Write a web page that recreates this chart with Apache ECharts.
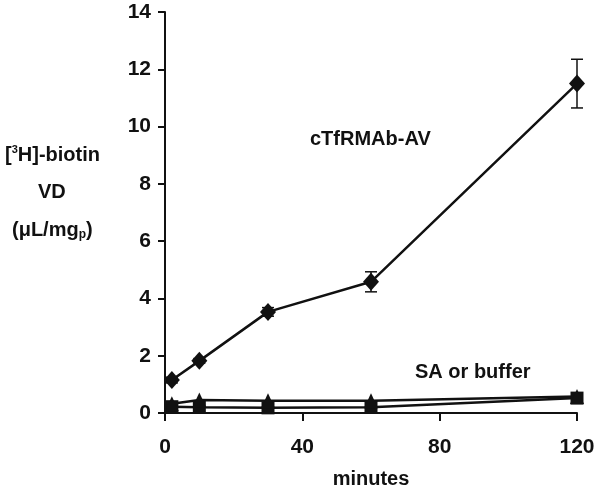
<!DOCTYPE html>
<html>
<head>
<meta charset="utf-8">
<script src="https://cdn.jsdelivr.net/npm/echarts@6/dist/echarts.min.js"></script>
<style>
  html, body { margin: 0; padding: 0; background: #fff; }
  #chart { width: 600px; height: 488px; }
</style>
</head>
<body>
<div id="chart"></div>
<script>
// sampling times (minutes)
var minutes = [2, 10, 30, 60, 120];
// cTfRMAb-AV mean and SE
var avMean = [1.15, 1.82, 3.53, 4.58, 11.5];
var avErr = [0.1, 0.08, 0.15, 0.35, 0.85];
// SA (triangles) and buffer (squares)
var saMean = [0.32, 0.45, 0.43, 0.43, 0.58];
var bufferMean = [0.22, 0.2, 0.18, 0.2, 0.52];

var FONT = 'Liberation Sans, Arial, sans-serif';
var INK = '#111';

function pairs(ys) {
	return minutes.map(function (m, i) {
		return [m, ys[i]];
	});
}

var errData = minutes.map(function (m, i) {
	return [m, avMean[i] - avErr[i], avMean[i] + avErr[i]];
});

var chart = echarts.init(document.getElementById('chart'));
chart.setOption({
	backgroundColor: '#fff',
	animation: false,
	grid: { left: 165, right: 23, top: 12, bottom: 75, containLabel: false, outerBoundsMode: 'none' },
	xAxis: {
		type: 'value',
		min: 0,
		max: 120,
		interval: 40,
		name: 'minutes',
		nameLocation: 'middle',
		nameGap: 56,
		nameTextStyle: { color: INK, fontFamily: FONT, fontWeight: 'bold', fontSize: 20 },
		splitLine: { show: false },
		axisLine: { lineStyle: { color: INK, width: 2 } },
		axisTick: { length: 8, lineStyle: { color: INK, width: 2 } },
		axisLabel: { color: INK, fontFamily: FONT, fontWeight: 'bold', fontSize: 21, margin: 24 }
	},
	yAxis: {
		type: 'value',
		min: 0,
		max: 14,
		interval: 2,
		splitLine: { show: false },
		axisLine: { show: true, lineStyle: { color: INK, width: 2 } },
		axisTick: { show: true, length: 7, lineStyle: { color: INK, width: 2 } },
		axisLabel: { color: INK, fontFamily: FONT, fontWeight: 'bold', fontSize: 21, margin: 14 }
	},
	graphic: [
		{
			type: 'text', left: 5, top: 144,
			style: {
				text: '{a|[}{sup|3}{a|H]-biotin}',
				rich: {
					a: { fontFamily: FONT, fontWeight: 'bold', fontSize: 20, fill: INK, lineHeight: 22 },
					sup: { fontFamily: FONT, fontWeight: 'bold', fontSize: 11, fill: INK, lineHeight: 22, verticalAlign: 'top', padding: [0, 0, 8, 0] }
				}
			}
		},
		{
			type: 'text', left: 38, top: 182,
			style: { text: 'VD', font: 'bold 20px ' + FONT, fill: INK }
		},
		{
			type: 'text', left: 12, top: 220,
			style: {
				text: '{a|(\u03bcL/mg}{sub|p}{a|)}',
				rich: {
					a: { fontFamily: FONT, fontWeight: 'bold', fontSize: 20, fill: INK, lineHeight: 22 },
					sub: { fontFamily: FONT, fontWeight: 'bold', fontSize: 12, fill: INK, lineHeight: 22, verticalAlign: 'bottom', padding: [6, 0, 0, 0] }
				}
			}
		},
		{
			type: 'text', left: 310, top: 129,
			style: { text: 'cTfRMAb-AV', font: 'bold 20px ' + FONT, fill: INK }
		},
		{
			type: 'text', left: 415, top: 362,
			style: { text: 'SA or buffer', font: 'bold 20px ' + FONT, fill: INK }
		}
	],
	series: [
		{
			type: 'custom',
			name: 'err',
			data: errData,
			z: 3,
			renderItem: function (params, api) {
				var x = api.value(0);
				var top = api.coord([x, api.value(2)]);
				var bot = api.coord([x, api.value(1)]);
				var w = 6;
				var st = { stroke: INK, lineWidth: 1.5 };
				return {
					type: 'group',
					children: [
						{ type: 'line', shape: { x1: top[0], y1: top[1], x2: bot[0], y2: bot[1] }, style: st },
						{ type: 'line', shape: { x1: top[0] - w, y1: top[1], x2: top[0] + w, y2: top[1] }, style: st },
						{ type: 'line', shape: { x1: bot[0] - w, y1: bot[1], x2: bot[0] + w, y2: bot[1] }, style: st }
					]
				};
			}
		},
		{
			type: 'line',
			name: 'cTfRMAb-AV',
			data: pairs(avMean),
			symbol: 'diamond',
			symbolSize: [16, 18],
			showAllSymbol: true,
			lineStyle: { color: INK, width: 2.5 },
			itemStyle: { color: INK },
			z: 4
		},
		{
			type: 'line',
			name: 'buffer',
			data: pairs(bufferMean),
			symbol: 'rect',
			symbolSize: 13,
			lineStyle: { color: INK, width: 2.5 },
			itemStyle: { color: INK },
			z: 4
		},
		{
			type: 'line',
			name: 'SA',
			data: pairs(saMean),
			symbol: 'triangle',
			symbolSize: [14, 15],
			lineStyle: { color: INK, width: 2.5 },
			itemStyle: { color: INK },
			z: 4
		}
	]
});
</script>
</body>
</html>
